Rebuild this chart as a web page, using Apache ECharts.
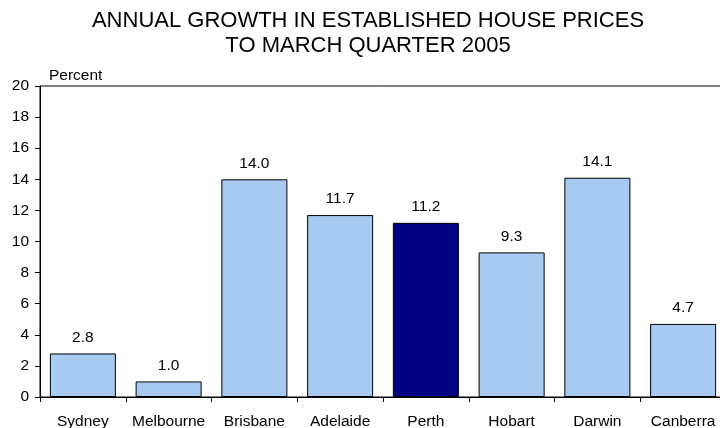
<!DOCTYPE html>
<html>
<head>
<meta charset="utf-8">
<script src="https://cdn.jsdelivr.net/npm/echarts@6/dist/echarts.min.js"></script>
<style>
  html, body { margin: 0; padding: 0; background: #fff; }
  #chart { width: 720px; height: 428px; }
</style>
</head>
<body>
<div id="chart"></div>
<script>
// Annual growth in established house prices, by capital city
const cities = ['Sydney', 'Melbourne', 'Brisbane', 'Adelaide', 'Perth', 'Hobart', 'Darwin', 'Canberra'];
const growth = [2.8, 1.0, 14.0, 11.7, 11.2, 9.3, 14.1, 4.7];
const highlightCity = 'Perth';
const yTicks = [0, 2, 4, 6, 8, 10, 12, 14, 16, 18, 20];
const titleLines = ['ANNUAL GROWTH IN ESTABLISHED HOUSE PRICES', 'TO MARCH QUARTER 2005'];
const unitLabel = 'Percent';

const font = 'Liberation Sans, Arial, sans-serif';
const labelSize = 15.5;

const chart = echarts.init(document.getElementById('chart'), null, { renderer: 'canvas' });

chart.setOption({
  animation: false,
  backgroundColor: '#ffffff',
  graphic: [
    {
      type: 'text', x: 368, y: 21,
      style: { text: titleLines[0], fontFamily: font, fontSize: 22, fill: '#000',
               textAlign: 'center', textVerticalAlign: 'middle' }
    },
    {
      type: 'text', x: 368, y: 46,
      style: { text: titleLines[1], fontFamily: font, fontSize: 22, fill: '#000',
               textAlign: 'center', textVerticalAlign: 'middle' }
    },
    {
      type: 'text', x: 49, y: 75.5,
      style: { text: unitLabel, fontFamily: font, fontSize: labelSize, fill: '#000',
               textAlign: 'left', textVerticalAlign: 'middle' }
    }
  ],
  grid: {
    left: 40, right: -6, top: 86, bottom: 31,
    outerBoundsMode: 'none',
    containLabel: false,
    show: true, borderColor: '#000', borderWidth: 1
  },
  xAxis: {
    type: 'category',
    data: cities,
    axisLine: { lineStyle: { color: '#000', width: 1 } },
    axisTick: { show: true, length: 5, lineStyle: { color: '#000' } },
    axisLabel: { interval: 0, hideOverlap: false, fontFamily: font, fontSize: labelSize, color: '#000', margin: 17 },
    splitLine: { show: false }
  },
  yAxis: {
    type: 'value',
    min: yTicks[0],
    max: yTicks[yTicks.length - 1],
    interval: 2,
    axisLine: { show: true, lineStyle: { color: '#000', width: 1 } },
    axisTick: { show: true, length: 5, lineStyle: { color: '#000' } },
    axisLabel: { fontFamily: font, fontSize: labelSize, color: '#000', margin: 11 },
    splitLine: { show: false }
  },
  series: [{
    type: 'bar',
    barCategoryGap: '23%',
    data: cities.map((c, i) => ({
      value: growth[i],
      itemStyle: { color: c === highlightCity ? '#000080' : '#A6CAF0' }
    })),
    itemStyle: { borderColor: '#000', borderWidth: 1 },
    label: {
      show: true,
      position: 'top',
      distance: 8,
      formatter: p => p.value.toFixed(1),
      fontFamily: font, fontSize: labelSize, color: '#000'
    }
  }]
});
</script>
</body>
</html>
